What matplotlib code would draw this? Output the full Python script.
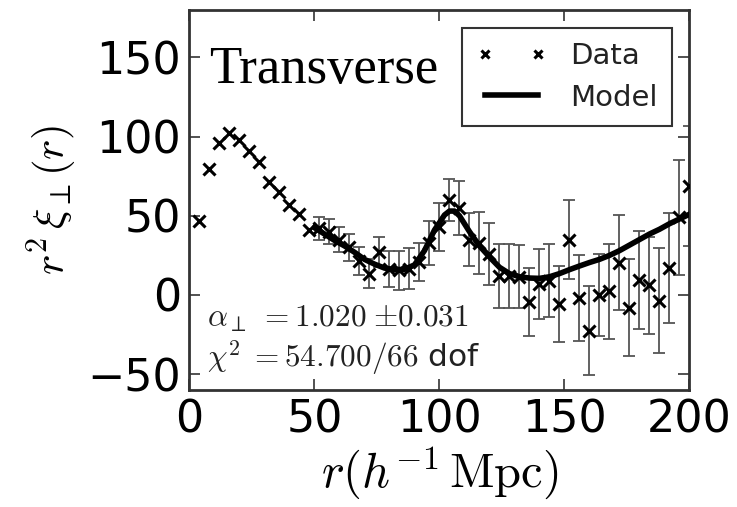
import matplotlib
matplotlib.use("Agg")
import matplotlib.pyplot as plt
import numpy as np

# ── Données ─────────────────────────────────────────────────────────────────

r_data = np.arange(4, 201, 4)
xi_data = [
    47, 79.5, 96, 102, 98, 91, 84, 71.5, 65, 57,
    51, 41, 42, 40, 35, 30, 21.5, 13.5, 27, 16.5,
    15.5, 16.5, 21, 33, 43, 60, 55, 35, 33, 26,
    12, 12, 11.5, -4.5, 7, 9, -5.5, 35, -2, -22.5,
    0, 2.5, 20.5, -8, 9.5, 6, -3.5, 17, 49, 69,
]
xi_err = [
    0, 0, 0, 0, 0, 0, 0, 0, 0, 0,
    0, 0, 7, 8, 8, 8.5, 9, 9, 9.5, 11.5,
    12.5, 13, 12, 14, 15, 13, 17, 17, 19.5, 19.5,
    20, 20, 20, 21.5, 22, 23, 24, 25, 27, 28,
    26, 30, 30, 30.5, 31, 30.5, 33, 35, 36.5, 38,
]

r_model = [50, 54, 58, 62, 66, 70, 74, 78, 82, 86, 90, 94, 98, 102, 104, 106,
           108, 110, 112, 116, 120, 124, 128, 132, 136, 140, 144, 148, 152,
           156, 160, 164, 168, 172, 176, 180, 184, 188, 192, 196, 200]
xi_model = [42.5, 38.5, 34.5, 31, 27, 22.5, 19.5, 17, 16, 16.2, 19, 28, 41,
            50.5, 53, 53, 50, 45, 40, 31, 24, 17.5, 13.5, 11.5, 10.7, 10.5,
            11.5, 13.5, 16, 18.3, 20.5, 22.5, 25, 28, 31.5, 35, 38.5, 41.5,
            45, 48, 51]

x_ticks = [0, 50, 100, 150, 200]
y_ticks = [-50, 0, 50, 100, 150]

# ── Figure ──────────────────────────────────────────────────────────────────

plt.rcParams["mathtext.fontset"] = "cm"

fig = plt.figure(figsize=(7.37, 5.07), dpi=100)
ax = fig.add_axes([0.2571, 0.2308, 0.6784, 0.7495])

has_err = np.array(xi_err) > 0
ax.errorbar(r_data[has_err], np.array(xi_data)[has_err],
            yerr=np.array(xi_err)[has_err], fmt="none",
            ecolor="#555555", elinewidth=1.3, capsize=4, capthick=1.3,
            zorder=2)
ax.plot(r_data, xi_data, "x", color="black", markersize=8, mew=2.2,
        label="Data", zorder=3)
ax.plot(r_model, xi_model, "-", color="black", lw=4, label="Model",
        zorder=4, solid_joinstyle="round")

ax.set_xlim(0, 200)
ax.set_ylim(-60, 180)
ax.set_xticks(x_ticks)
ax.set_yticks(y_ticks)
ax.tick_params(direction="in", length=8, width=1.2, labelsize=32,
               top=True, right=True, pad=6, colors="#333333",
               labelcolor="black")
for s in ax.spines.values():
    s.set_linewidth(2)
    s.set_color("#333333")

ax.set_xlabel(r"$r(h^{-1}\,\mathrm{Mpc})$", fontsize=35, labelpad=2)
ax.set_ylabel(r"$r^2\,\xi_\perp(r)$", fontsize=31, labelpad=6)

ax.text(0.039, 0.808, "Transverse", transform=ax.transAxes,
        fontsize=38, family="Liberation Serif", va="baseline")
ax.text(0.035, 0.166, r"$\alpha_\perp\;{=}1.020\;{\pm}0.031$",
        transform=ax.transAxes, fontsize=22.5, va="baseline", color="#222222")
ax.text(0.035, 0.058, r"$\chi^2\;{=}54.700/66$ dof",
        transform=ax.transAxes, fontsize=22.5, va="baseline", color="#222222")

leg = ax.legend(loc="upper right", bbox_to_anchor=(0.965, 0.953),
                borderaxespad=0, fontsize=21, numpoints=2, handlelength=2.4,
                fancybox=False, framealpha=1, labelspacing=0.45,
                markerscale=0.75, borderpad=0.5)
leg.get_frame().set_edgecolor("#333333")
leg.get_frame().set_linewidth(1.5)
for t in leg.get_texts():
    t.set_color("#222222")

fig.savefig("out.png", dpi=100)
